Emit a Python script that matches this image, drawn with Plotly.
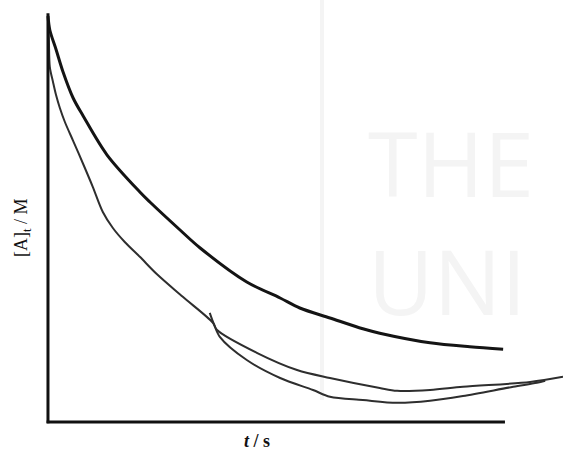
import plotly.graph_objects as go

# Concentration of A against time: smooth theoretical decay and two measured runs
t_model = [0.0, 0.04, 0.18, 0.33, 0.55, 0.77, 1.29, 2.01, 2.23, 2.89, 3.33, 4.35,
           5.08, 5.51, 6.17, 6.89, 7.26, 8.36, 9.23, 9.96]
a_model = [1.015, 0.98, 0.93, 0.875, 0.81, 0.765, 0.668, 0.575, 0.55, 0.48, 0.435, 0.35,
           0.31, 0.285, 0.26, 0.233, 0.222, 0.198, 0.188, 0.182]

t_run1 = [0.0, 0.02, 0.04, 0.11, 0.175, 0.26, 0.37, 0.55, 0.77, 0.98, 1.20, 1.42, 1.68,
          2.01, 2.38, 2.95, 3.61, 3.70, 4.57, 5.45, 6.17, 7.26, 7.64, 8.36, 9.08, 10.55,
          11.27]
a_run1 = [1.015, 0.955, 0.888, 0.85, 0.818, 0.785, 0.75, 0.703, 0.645, 0.588, 0.525,
          0.485, 0.45, 0.413, 0.37, 0.313, 0.248, 0.23, 0.173, 0.13, 0.11, 0.085, 0.078,
          0.08, 0.088, 0.10, 0.113]

t_run2 = [3.54, 3.63, 3.76, 4.35, 5.08, 5.80, 6.17, 6.89, 7.64, 8.36, 9.08, 10.18,
          10.70, 10.88]
a_run2 = [0.273, 0.245, 0.213, 0.155, 0.11, 0.08, 0.063, 0.055, 0.048, 0.053, 0.065,
          0.088, 0.098, 0.103]

# faint lettering behind the plot, positioned in pixels of the page
wm_words = ["THE", "UNI"]
wm_px_x = [368, 368]
wm_px_y = [174, 292]

T_END = 10.0     # end of the drawn time axis
A_TOP = 1.022    # top of the drawn concentration axis

W, H = 563, 450
X_RANGE = [-1.05, 11.27]
Y_RANGE = [-0.07, 1.055]


def px_to_x(px):
    return X_RANGE[0] + px / W * (X_RANGE[1] - X_RANGE[0])


def py_to_y(py):
    return Y_RANGE[1] - py / H * (Y_RANGE[1] - Y_RANGE[0])


wm = "#f4f4f4"
fig = go.Figure()

fig.add_trace(go.Scatter(x=[px_to_x(v) for v in wm_px_x], y=[py_to_y(v) for v in wm_px_y],
                         mode="text", text=wm_words, textposition="middle right",
                         textfont=dict(family="Open Sans", size=90, color=wm),
                         hoverinfo="skip", cliponaxis=False))

run_line = dict(color="#2e2e2e", width=2, shape="spline", smoothing=0.9)
fig.add_trace(go.Scatter(x=t_run1, y=a_run1, mode="lines", line=run_line, hoverinfo="skip"))
fig.add_trace(go.Scatter(x=t_run2, y=a_run2, mode="lines", line=run_line, hoverinfo="skip"))
fig.add_trace(go.Scatter(x=t_model, y=a_model, mode="lines",
                         line=dict(color="#141414", width=3, shape="spline", smoothing=0.9),
                         hoverinfo="skip"))

shapes = [
    dict(type="line", xref="paper", yref="paper", x0=322 / W, x1=322 / W,
         y0=1 - 400 / H, y1=1, line=dict(color=wm, width=4), layer="below"),
    # axes
    dict(type="line", xref="x", yref="y", x0=0, x1=0, y0=-0.003, y1=A_TOP,
         line=dict(color="#111111", width=3)),
    dict(type="line", xref="x", yref="y", x0=-0.03, x1=T_END, y0=0, y1=0,
         line=dict(color="#111111", width=3)),
]

annotations = [
    dict(text="[A]<sub>t</sub> / M", xref="paper", yref="paper", x=22 / W, y=1 - 228 / H,
         xanchor="center", yanchor="middle", textangle=-90, showarrow=False,
         font=dict(family="Liberation Serif", size=18, color="#111111")),
    dict(text="<b><i>t</i> / s</b>", xref="paper", yref="paper", x=257 / W, y=1 - 441 / H,
         xanchor="center", yanchor="middle", showarrow=False,
         font=dict(family="Liberation Serif", size=18, color="#111111")),
]

fig.update_layout(
    width=W, height=H, autosize=False,
    margin=dict(l=0, r=0, t=0, b=0),
    paper_bgcolor="white", plot_bgcolor="white",
    showlegend=False,
    xaxis=dict(range=X_RANGE, visible=False, fixedrange=True),
    yaxis=dict(range=Y_RANGE, visible=False, fixedrange=True),
    shapes=shapes, annotations=annotations,
)

fig.write_html("out.html")
